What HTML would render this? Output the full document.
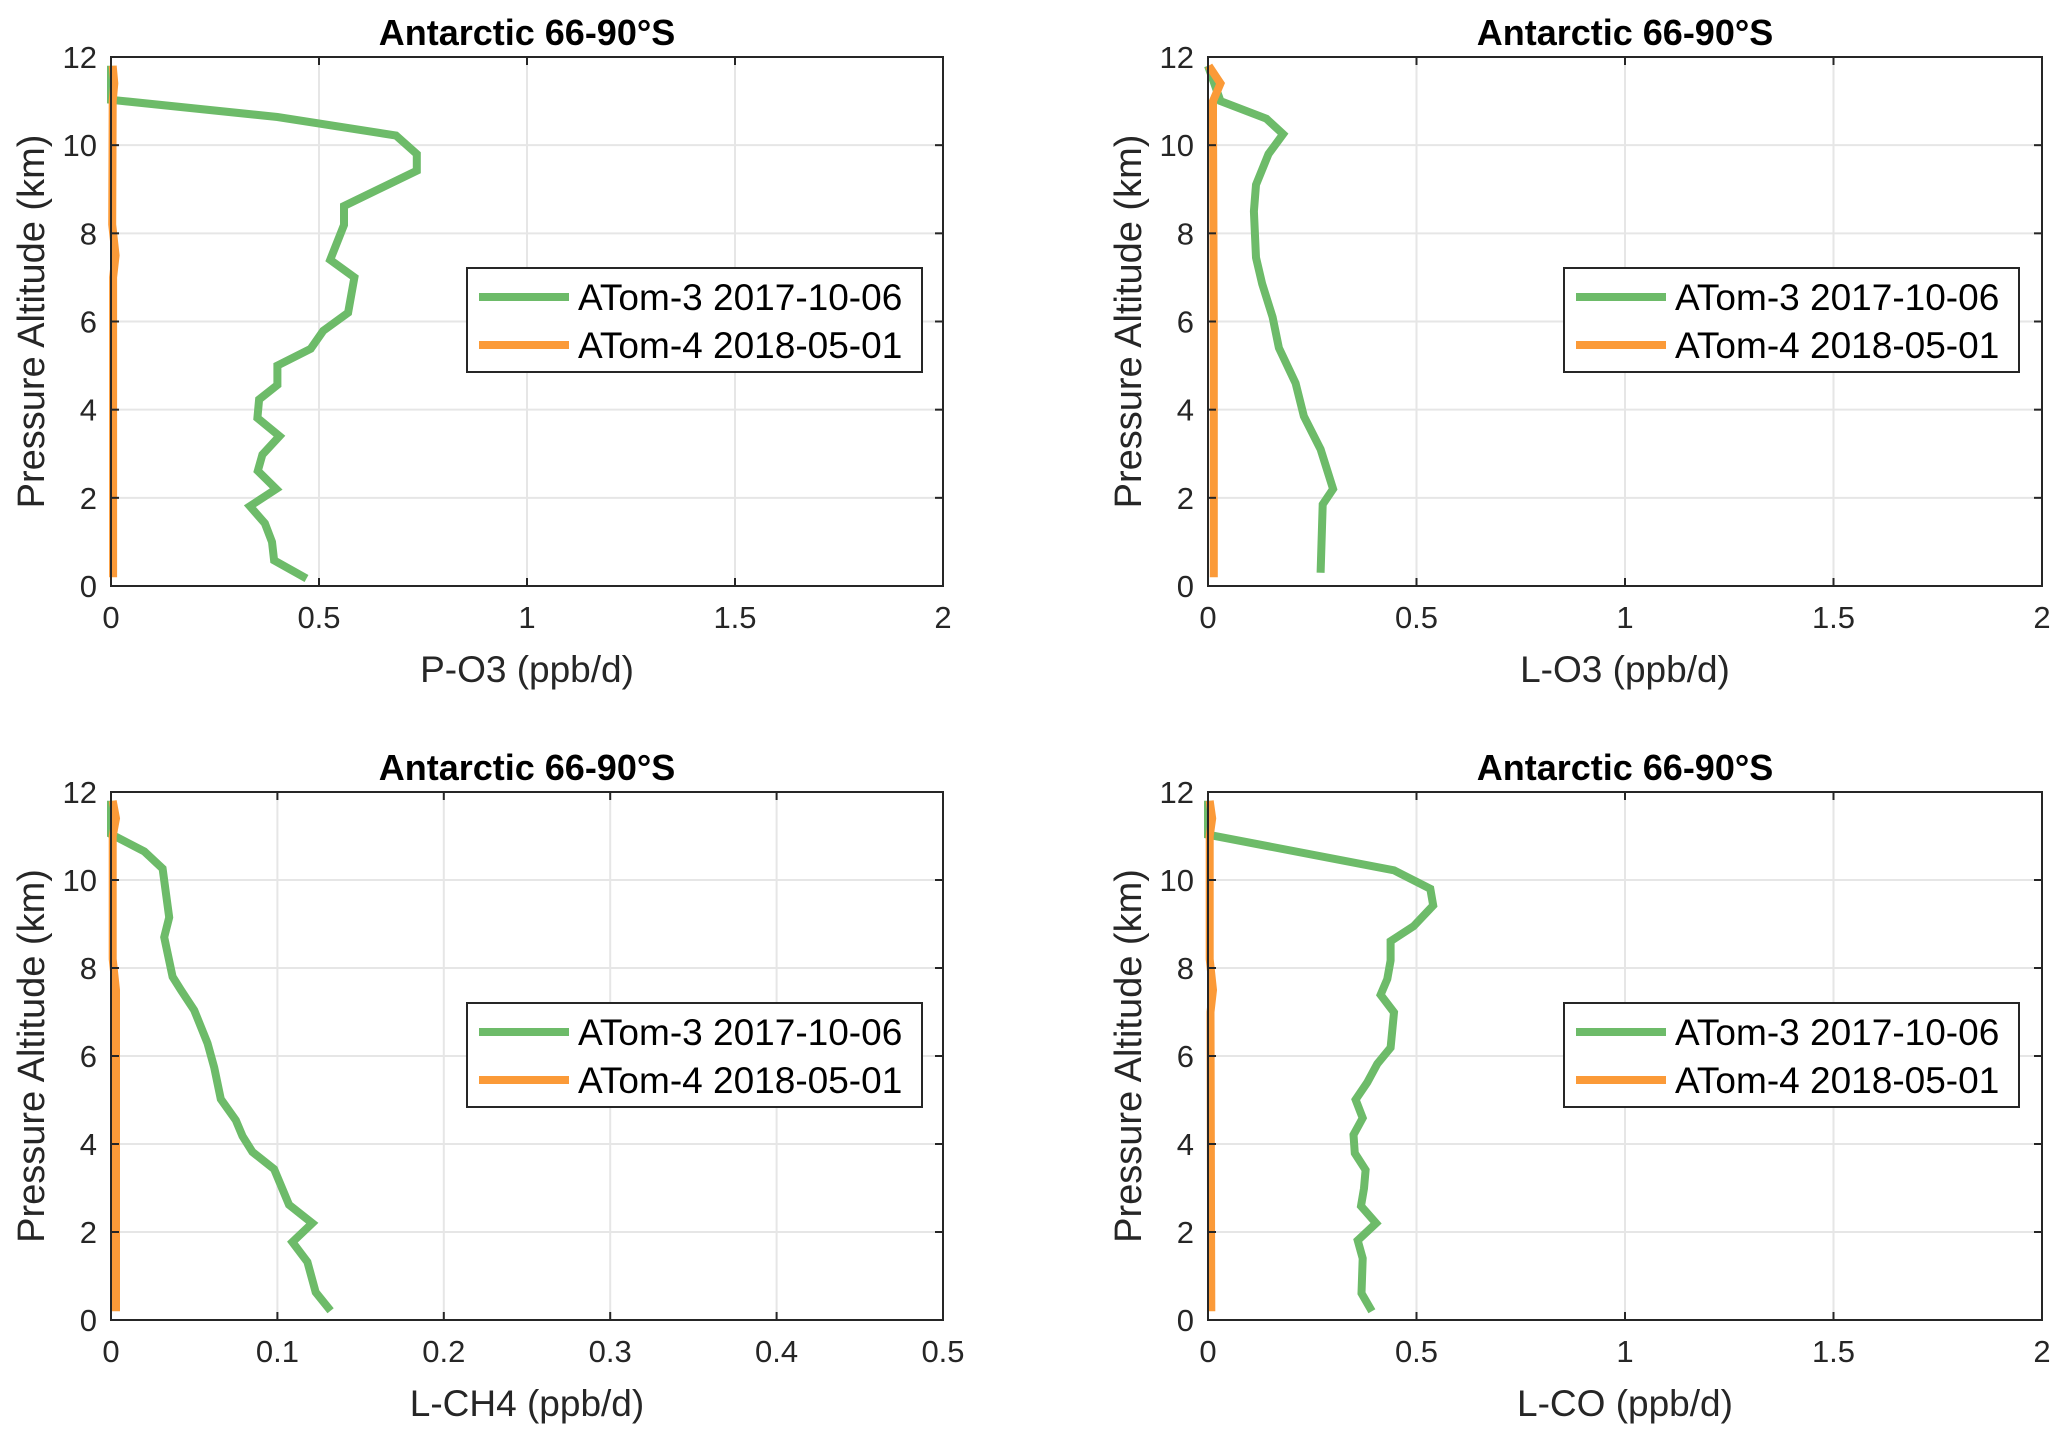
<!DOCTYPE html>
<html><head><meta charset="utf-8"><style>
html,body{margin:0;padding:0;background:#fff;}
svg{display:block;font-family:"Liberation Sans",sans-serif;}
</style></head><body>
<svg id="fig" width="2067" height="1436" viewBox="0 0 2067 1436" xmlns="http://www.w3.org/2000/svg"></svg>
<script>
// Panel 1: P-O3
const po3GreenAlt = [11.8,11.03,10.64,10.22,9.8,9.42,8.62,8.19,7.4,7.0,6.2,5.79,5.38,5.0,4.56,4.23,3.81,3.4,2.98,2.61,2.2,1.81,1.42,1.0,0.58,0.17];
const po3GreenVal = [0,0,0.40,0.685,0.735,0.735,0.56,0.56,0.527,0.585,0.57,0.51,0.48,0.40,0.40,0.356,0.352,0.405,0.364,0.353,0.397,0.334,0.37,0.387,0.392,0.47];
const po3OrangeAlt = [11.8,11.4,11.0,8.2,7.5,7.0,0.2];
const po3OrangeVal = [0.004,0.008,0.004,0.003,0.011,0.005,0.005];
// Panel 2: L-O3
const lo3GreenAlt = [11.8,11.0,10.6,10.25,9.8,9.1,8.5,7.45,6.85,6.1,5.4,4.6,3.85,3.1,2.2,1.85,0.3];
const lo3GreenVal = [0,0.03,0.14,0.18,0.145,0.115,0.11,0.115,0.13,0.155,0.17,0.21,0.23,0.27,0.3,0.275,0.27];
const lo3OrangeAlt = [11.8,11.4,11.0,10.6,6.0,0.2];
const lo3OrangeVal = [0.002,0.03,0.012,0.012,0.014,0.014];
// Panel 3: L-CH4
const ch4GreenAlt = [11.8,11.04,10.65,10.26,9.15,8.7,7.8,7.5,7.04,6.29,5.74,5.02,4.54,4.18,3.82,3.43,2.62,2.2,1.77,1.32,0.63,0.21];
const ch4GreenVal = [0,0,0.02,0.031,0.035,0.032,0.037,0.042,0.05,0.058,0.062,0.066,0.075,0.079,0.085,0.098,0.107,0.121,0.109,0.118,0.123,0.132];
const ch4OrangeAlt = [11.8,11.4,11.0,8.2,7.5,0.2];
const ch4OrangeVal = [0.001,0.003,0.001,0.001,0.003,0.003];
// Panel 4: L-CO
const coGreenAlt = [11.8,11.03,10.22,9.8,9.42,8.95,8.61,8.17,7.75,7.39,6.99,6.19,5.82,5.4,5.01,4.59,4.21,3.79,3.41,2.99,2.59,2.2,1.81,1.4,0.61,0.2];
const coGreenVal = [0,0,0.446,0.533,0.54,0.493,0.438,0.438,0.43,0.414,0.446,0.438,0.406,0.382,0.354,0.371,0.349,0.352,0.378,0.374,0.367,0.403,0.359,0.371,0.368,0.393];
const coOrangeAlt = [11.8,11.4,11.0,8.2,7.5,7.0,0.2];
const coOrangeVal = [0.004,0.01,0.004,0.004,0.012,0.006,0.008];

const yTicks = [0,2,4,6,8,10,12];
const xTicks2 = [0,0.5,1,1.5,2];
const xTicksLabels2 = ["0","0.5","1","1.5","2"];
const xTicksCH4 = [0,0.1,0.2,0.3,0.4,0.5];
const xTicksLabelsCH4 = ["0","0.1","0.2","0.3","0.4","0.5"];
const legendLabels = ["ATom-3 2017-10-06","ATom-4 2018-05-01"];

const NS = "http://www.w3.org/2000/svg";
const svg = document.getElementById('fig');
function mk(tag, attrs, parent){
  const e = document.createElementNS(NS, tag);
  for (const k in attrs) e.setAttribute(k, attrs[k]);
  parent.appendChild(e); return e;
}
const GREEN = "#6dbb69", ORANGE = "#fb9a38";

function panel(name, L, T, R, B, xmax, xt, xtl, xlabel, gA, gV, oA, oV){
  const g = mk('g', {}, svg);
  
  
  const sx = v => L + v / xmax * (R - L);
  const sy = v => B - v / 12 * (B - T);
  xt.forEach(v => { if (v>0 && v<xmax){ const l = mk('line',{x1:sx(v),x2:sx(v),y1:T,y2:B,stroke:"#e6e6e6","stroke-width":2},g);
      }});
  yTicks.forEach(v => { if (v>0 && v<12){ const l = mk('line',{x1:L,x2:R,y1:sy(v),y2:sy(v),stroke:"#e6e6e6","stroke-width":2},g);
      }});
  [[gA,gV,GREEN,'atom3-line'],[oA,oV,ORANGE,'atom4-line']].forEach(s => {
    const pts = s[0].map((a,i) => sx(s[1][i]).toFixed(1)+","+sy(a).toFixed(1)).join(" ");
    const p = mk('polyline',{points:pts,fill:"none",stroke:s[2],"stroke-width":8,"stroke-linejoin":"miter","stroke-miterlimit":3},g);
    
    
  });
  const box = mk('rect',{x:L,y:T,width:R-L,height:B-T,fill:"none",stroke:"#262626","stroke-width":2},g);
   
  xt.forEach((v,i) => {
    mk('line',{x1:sx(v),x2:sx(v),y1:B,y2:B-8,stroke:"#262626","stroke-width":2},g);
    mk('line',{x1:sx(v),x2:sx(v),y1:T,y2:T+8,stroke:"#262626","stroke-width":2},g);
    const t = mk('text',{x:sx(v),y:B+42,"font-size":31,"text-anchor":"middle",fill:"#262626"},g);
    t.textContent = xtl[i];
     
  });
  yTicks.forEach(v => {
    mk('line',{x1:L,x2:L+8,y1:sy(v),y2:sy(v),stroke:"#262626","stroke-width":2},g);
    mk('line',{x1:R,x2:R-8,y1:sy(v),y2:sy(v),stroke:"#262626","stroke-width":2},g);
    const t = mk('text',{x:L-14,y:sy(v)+11,"font-size":31,"text-anchor":"end",fill:"#262626"},g);
    t.textContent = String(v);
     
  });
  const ti = mk('text',{x:(L+R)/2,y:T-12,"font-size":36,"font-weight":"bold","text-anchor":"middle",fill:"#000"},g);
  ti.textContent = "Antarctic 66-90°S";
   
  const xl = mk('text',{x:(L+R)/2,y:B+96,"font-size":37,"text-anchor":"middle",fill:"#262626","xml:space":"preserve"},g);
  xl.textContent = xlabel;
   
  const cy = (T+B)/2;
  const ax = L-67;
  const yl = mk('text',{x:ax,y:cy,"font-size":38,"text-anchor":"middle",fill:"#262626",transform:`rotate(-90 ${ax} ${cy})`},g);
  yl.textContent = "Pressure Altitude (km)";
   
  const lg = mk('g',{},g);
   
  const lx = L + 356, ly = T + 211;
  mk('rect',{x:lx,y:ly,width:455,height:104,fill:"#fff",stroke:"#262626","stroke-width":2},lg);
  [GREEN,ORANGE].forEach((c,i) => {
    const yy = ly + 29 + i*48;
    const e = mk('g',{},lg);
     
    mk('line',{x1:lx+12,x2:lx+102,y1:yy,y2:yy,stroke:c,"stroke-width":8},e);
    const t = mk('text',{x:lx+111,y:yy+13,"font-size":37,fill:"#000"},e);
    t.textContent = legendLabels[i];
  });
}
panel('panel-p-o3',111,57,943,586,2,xTicks2,xTicksLabels2,"P-O3  (ppb/d)",po3GreenAlt,po3GreenVal,po3OrangeAlt,po3OrangeVal);
panel('panel-l-o3',1208,57,2042,586,2,xTicks2,xTicksLabels2,"L-O3  (ppb/d)",lo3GreenAlt,lo3GreenVal,lo3OrangeAlt,lo3OrangeVal);
panel('panel-l-ch4',111,792,943,1320,0.5,xTicksCH4,xTicksLabelsCH4,"L-CH4 (ppb/d)",ch4GreenAlt,ch4GreenVal,ch4OrangeAlt,ch4OrangeVal);
panel('panel-l-co',1208,792,2042,1320,2,xTicks2,xTicksLabels2,"L-CO  (ppb/d)",coGreenAlt,coGreenVal,coOrangeAlt,coOrangeVal);
</script>
</body></html>
